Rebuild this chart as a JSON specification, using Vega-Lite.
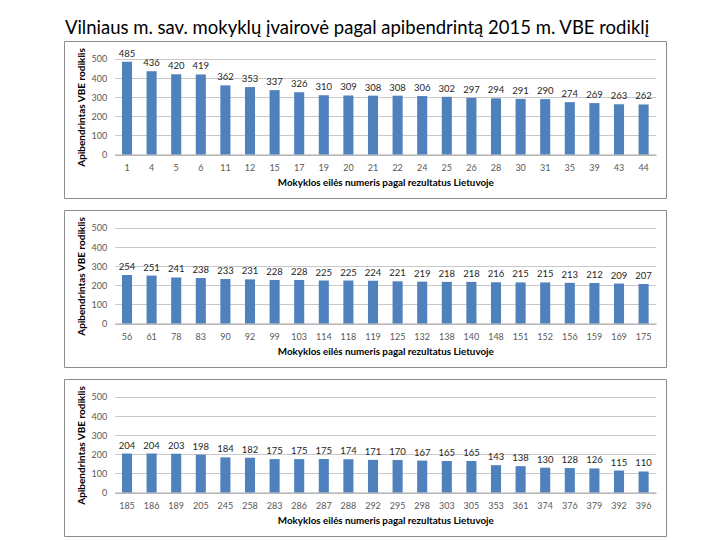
{
  "$schema": "https://vega.github.io/schema/vega-lite/v6.json",
  "autosize": "pad",
  "padding": {"left": 63, "top": 19, "right": 0, "bottom": 0},
  "background": "white",
  "title": {
    "text": "Vilniaus m. sav. mokyklų įvairovė pagal apibendrintą 2015 m. VBE rodiklį",
    "font": "Lato",
    "fontSize": 18.5,
    "fontWeight": "normal",
    "color": "#000000",
    "anchor": "middle",
    "dx": -8,
    "offset": 3
  },
  "datasets": {
    "p1": [
      {"nr": "1", "v": 485}, {"nr": "4", "v": 436}, {"nr": "5", "v": 420}, {"nr": "6", "v": 419},
      {"nr": "11", "v": 362}, {"nr": "12", "v": 353}, {"nr": "15", "v": 337}, {"nr": "17", "v": 326},
      {"nr": "19", "v": 310}, {"nr": "20", "v": 309}, {"nr": "21", "v": 308}, {"nr": "22", "v": 308},
      {"nr": "24", "v": 306}, {"nr": "25", "v": 302}, {"nr": "26", "v": 297}, {"nr": "28", "v": 294},
      {"nr": "30", "v": 291}, {"nr": "31", "v": 290}, {"nr": "35", "v": 274}, {"nr": "39", "v": 269},
      {"nr": "43", "v": 263}, {"nr": "44", "v": 262}
    ],
    "p2": [
      {"nr": "56", "v": 254}, {"nr": "61", "v": 251}, {"nr": "78", "v": 241}, {"nr": "83", "v": 238},
      {"nr": "90", "v": 233}, {"nr": "92", "v": 231}, {"nr": "99", "v": 228}, {"nr": "103", "v": 228},
      {"nr": "114", "v": 225}, {"nr": "118", "v": 225}, {"nr": "119", "v": 224}, {"nr": "125", "v": 221},
      {"nr": "132", "v": 219}, {"nr": "138", "v": 218}, {"nr": "140", "v": 218}, {"nr": "148", "v": 216},
      {"nr": "151", "v": 215}, {"nr": "152", "v": 215}, {"nr": "156", "v": 213}, {"nr": "159", "v": 212},
      {"nr": "169", "v": 209}, {"nr": "175", "v": 207}
    ],
    "p3": [
      {"nr": "185", "v": 204}, {"nr": "186", "v": 204}, {"nr": "189", "v": 203}, {"nr": "205", "v": 198},
      {"nr": "245", "v": 184}, {"nr": "258", "v": 182}, {"nr": "283", "v": 175}, {"nr": "286", "v": 175},
      {"nr": "287", "v": 175}, {"nr": "288", "v": 174}, {"nr": "292", "v": 171}, {"nr": "295", "v": 170},
      {"nr": "298", "v": 167}, {"nr": "303", "v": 165}, {"nr": "305", "v": 165}, {"nr": "353", "v": 143},
      {"nr": "361", "v": 138}, {"nr": "374", "v": 130}, {"nr": "376", "v": 128}, {"nr": "379", "v": 126},
      {"nr": "392", "v": 115}, {"nr": "396", "v": 110}
    ]
  },
  "spacing": 10,
  "vconcat": [
    {
      "data": {"name": "p1"},
      "width": 602,
      "height": 157,
      "encoding": {
        "x": {
          "field": "nr", "type": "nominal", "sort": null,
          "scale": {"range": [50.7, 591.9], "paddingInner": 0.59, "paddingOuter": 0.295},
          "axis": {"title": "Mokyklos eilės numeris pagal rezultatus Lietuvoje", "offset": -43.5}
        },
        "y": {
          "field": "v", "type": "quantitative",
          "scale": {"domain": [-227.7, 594.2], "nice": false, "zero": false},
          "axis": {"title": "Apibendrintas VBE rodiklis", "offset": -50.7, "titleY": 66, "values": [0, 100, 200, 300, 400, 500]}
        }
      },
      "layer": [
        {"mark": {"type": "bar", "color": "#4F81BD"}, "encoding": {"y2": {"datum": 0}}},
        {"mark": {"type": "text", "baseline": "bottom", "dy": -3, "fontSize": 9.5, "color": "#262626", "font": "Lato"}, "encoding": {"text": {"field": "v", "type": "quantitative"}}}
      ]
    },
    {
      "data": {"name": "p2"},
      "width": 602,
      "height": 157,
      "encoding": {
        "x": {
          "field": "nr", "type": "nominal", "sort": null,
          "scale": {"range": [50.7, 591.9], "paddingInner": 0.59, "paddingOuter": 0.295},
          "axis": {"title": "Mokyklos eilės numeris pagal rezultatus Lietuvoje", "offset": -43.5}
        },
        "y": {
          "field": "v", "type": "quantitative",
          "scale": {"domain": [-227.7, 594.2], "nice": false, "zero": false},
          "axis": {"title": "Apibendrintas VBE rodiklis", "offset": -50.7, "titleY": 66, "values": [0, 100, 200, 300, 400, 500]}
        }
      },
      "layer": [
        {"mark": {"type": "bar", "color": "#4F81BD"}, "encoding": {"y2": {"datum": 0}}},
        {"mark": {"type": "text", "baseline": "bottom", "dy": -3, "fontSize": 9.5, "color": "#262626", "font": "Lato"}, "encoding": {"text": {"field": "v", "type": "quantitative"}}}
      ]
    },
    {
      "data": {"name": "p3"},
      "width": 602,
      "height": 157,
      "encoding": {
        "x": {
          "field": "nr", "type": "nominal", "sort": null,
          "scale": {"range": [50.7, 591.9], "paddingInner": 0.59, "paddingOuter": 0.295},
          "axis": {"title": "Mokyklos eilės numeris pagal rezultatus Lietuvoje", "offset": -43.5}
        },
        "y": {
          "field": "v", "type": "quantitative",
          "scale": {"domain": [-227.7, 594.2], "nice": false, "zero": false},
          "axis": {"title": "Apibendrintas VBE rodiklis", "offset": -50.7, "titleY": 66, "values": [0, 100, 200, 300, 400, 500]}
        }
      },
      "layer": [
        {"mark": {"type": "bar", "color": "#4F81BD"}, "encoding": {"y2": {"datum": 0}}},
        {"mark": {"type": "text", "baseline": "bottom", "dy": -3, "fontSize": 9.5, "color": "#262626", "font": "Lato"}, "encoding": {"text": {"field": "v", "type": "quantitative"}}}
      ]
    }
  ],
  "config": {
    "view": {"stroke": "#8c8c8c", "strokeWidth": 1, "fill": "white"},
    "axisX": {
      "domain": true, "domainColor": "#a6a6a6", "ticks": false, "grid": false,
      "labelAngle": 0, "labelFont": "Lato", "labelFontSize": 9, "labelColor": "#595959", "labelPadding": 9,
      "titleFont": "Lato", "titleFontSize": 9.8, "titleFontWeight": "bold", "titleColor": "#000000", "titlePadding": 5
    },
    "axisY": {
      "domain": false, "ticks": false, "grid": true, "gridColor": "#c8c8c8",
      "labelFont": "Lato", "labelFontSize": 9, "labelColor": "#595959", "labelPadding": 8,
      "titleFont": "Lato", "titleFontSize": 10, "titleFontWeight": "bold", "titleColor": "#000000", "titlePadding": 5
    }
  }
}
